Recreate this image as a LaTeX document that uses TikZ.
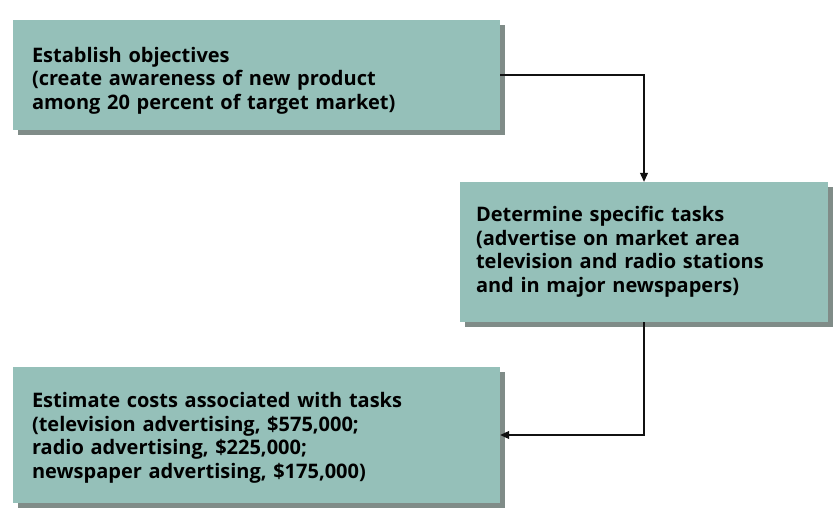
\documentclass[tikz,border=0pt]{standalone}
\usepackage{fontspec}
\setsansfont{Open Sans}
\usepackage{tikz}
\usetikzlibrary{arrows.meta,shadows}
\definecolor{boxfill}{HTML}{95C0B9}
\definecolor{shadowgray}{HTML}{6A7873}
\definecolor{inkblack}{HTML}{111111}

\tikzset{
  stagebox/.style={rectangle,fill=boxfill,inner xsep=0pt,inner ysep=0pt,
    align=left,font=\sffamily\bfseries\fontsize{20}{23.5}\selectfont,
    drop shadow={shadow xshift=5pt,shadow yshift=-5pt,fill=shadowgray,opacity=0.85}},
  flow/.style={-{Triangle[length=9pt,width=8pt]},line width=1.1pt,inkblack}
}

\begin{document}
\begin{tikzpicture}[x=1pt,y=1pt]
  \useasboundingbox (0,0) rectangle (834,-510);
  \node[stagebox,minimum width=487,minimum height=110,text width=449] (objectives)
      at (256.5,-75)
      {\rule{0pt}{26pt}Establish objectives\\(create awareness of new product\\among 20 percent of target market)};
  \node[stagebox,minimum width=368,minimum height=140,text width=336] (tasks)
      at (644,-252)
      {Determine specific tasks\\(advertise on market area\\television and radio stations\\and in major newspapers)};
  \node[stagebox,minimum width=487,minimum height=136,text width=449] (costs)
      at (256.5,-435)
      {\rule{0pt}{21pt}Estimate costs associated with tasks\\(television advertising, \$575,000;\\radio advertising, \$225,000;\\newspaper advertising, \$175,000)};
  \draw[flow] (objectives.east) -| (tasks.north);
  \draw[flow] (tasks.south) |- (costs.east);
\end{tikzpicture}
\end{document}
